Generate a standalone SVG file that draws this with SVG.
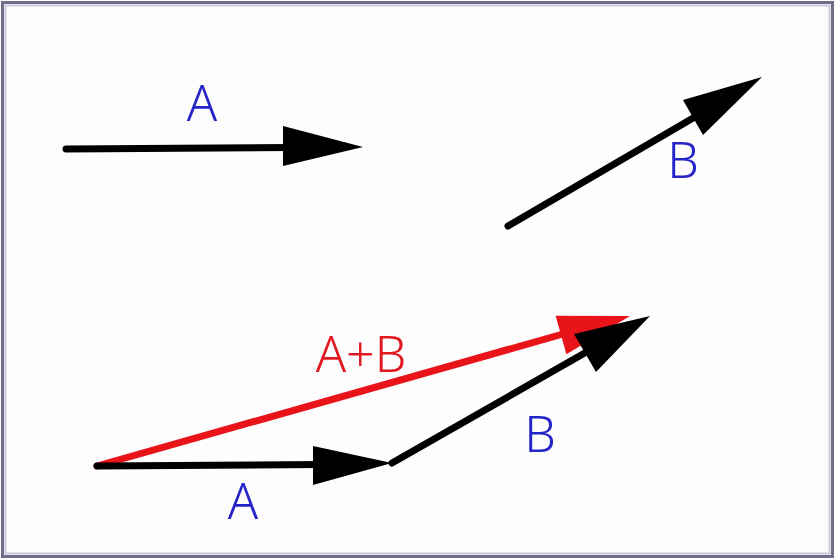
<svg xmlns="http://www.w3.org/2000/svg" width="835" height="559" viewBox="0 0 835 559">
<style>
.blk{stroke:#000;stroke-width:7;stroke-linecap:round;fill:none}
.red{stroke:#e8141a;stroke-width:7;stroke-linecap:round;fill:none}
.hb{fill:#000}
.hr{fill:#e8141a}
.lb{font-family:"Noto Sans","DejaVu Sans",sans-serif;font-size:50px;font-weight:300;fill:#2424c8;text-anchor:middle}
.lr{font-family:"Noto Sans","DejaVu Sans",sans-serif;font-size:50px;font-weight:300;fill:#e01820;text-anchor:middle}
</style>
<rect x="0" y="0" width="835" height="559" fill="#fdfdfd"/>
<rect x="2.5" y="2.5" width="830" height="554" fill="none" stroke="#6e6e88" stroke-width="3"/>
<rect x="5.5" y="5.5" width="824" height="548" fill="none" stroke="#c8c8d8" stroke-width="2"/>
<g id="connectors">
<g id="topA">
<line class="blk" x1="66" y1="149" x2="290" y2="147.5"/>
<polygon class="hb" points="363,147 283,126 283,166"/>
</g>
<g id="topB">
<line class="blk" x1="508" y1="226" x2="700" y2="114"/>
<polygon class="hb" points="762,77 683,100 703,135"/>
</g>
<g id="sumAB">
<line class="red" x1="97" y1="466" x2="570" y2="332"/>
<polygon class="hr" points="630,316 555.6,315.8 566.4,354.2"/>
</g>
<g id="botA">
<line class="blk" x1="97" y1="466" x2="320" y2="464.5"/>
<polygon class="hb" points="392,463 313,446 313,485"/>
</g>
<g id="botB">
<line class="blk" x1="392" y1="463" x2="590" y2="350"/>
<polygon class="hb" points="650,316 574,334 596,372"/>
</g>
</g>
<g id="labels">
<text class="lb" x="202" y="121">A</text>
<text class="lb" x="683" y="178">B</text>
<text class="lr" x="361" y="372">A+B</text>
<text class="lb" x="540" y="452">B</text>
<text class="lb" x="243" y="519">A</text>
</g>
</svg>
